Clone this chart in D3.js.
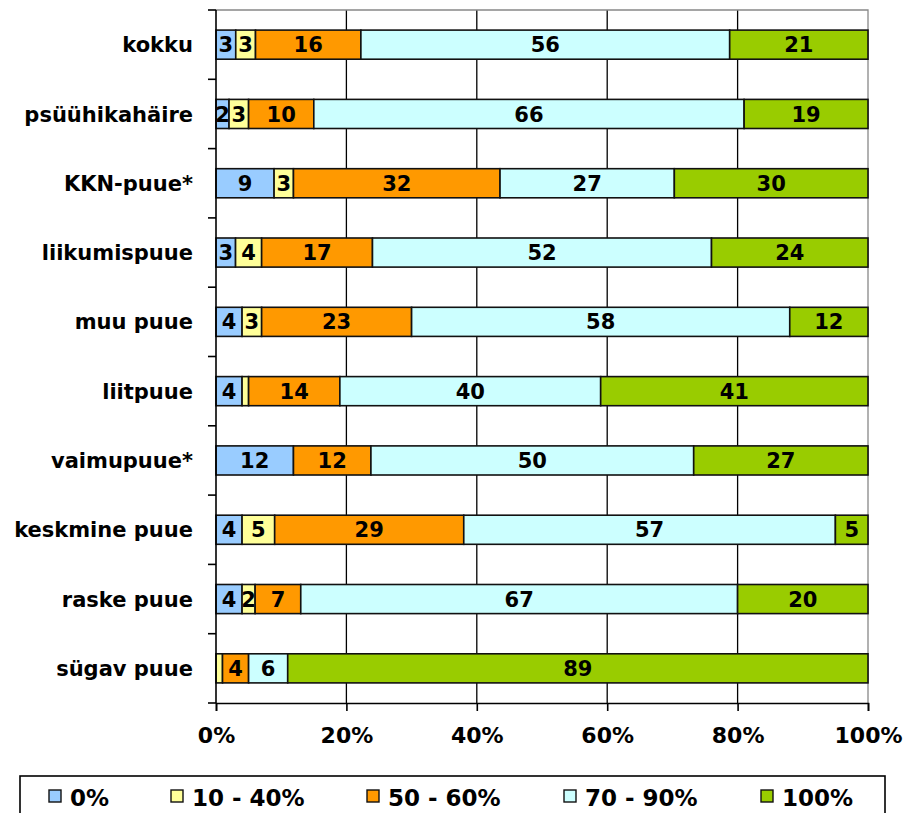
<!DOCTYPE html>
<html>
<head>
<meta charset="utf-8">
<script src="https://cdn.jsdelivr.net/npm/d3@7"></script>
<style>
  body { margin: 0; background: #fff; }
  svg { display: block; font-family: "DejaVu Sans", Verdana, sans-serif; font-weight: bold; }
</style>
</head>
<body>
<svg id="chart" width="909" height="813"></svg>
<script>
// categories, top to bottom
const categories = ["kokku", "psüühikahäire", "KKN-puue*", "liikumispuue", "muu puue",
  "liitpuue", "vaimupuue*", "keskmine puue", "raske puue", "sügav puue"];

// series values (percent), one array per segment
const s0     = [3, 2, 9, 3, 4, 4, 12, 4, 4, 0];
const s10_40 = [3, 3, 3, 4, 3, 1, 0, 5, 2, 1];
const s50_60 = [16, 10, 32, 17, 23, 14, 12, 29, 7, 4];
const s70_90 = [56, 66, 27, 52, 58, 40, 50, 57, 67, 6];
const s100   = [21, 19, 30, 24, 12, 41, 27, 5, 20, 89];

const seriesNames = ["0%", "10 - 40%", "50 - 60%", "70 - 90%", "100%"];
const seriesColors = ["#99ccff", "#ffff99", "#ff9900", "#ccffff", "#99cc00"];
const xTicks = [0, 0.2, 0.4, 0.6, 0.8, 1];

const svg = d3.select("#chart");
const plotLeft = 216, plotRight = 868, plotTop = 10, plotBottom = 703;

// build rows for d3.stack
const keys = ["a", "b", "c", "d", "e"];
const rows = categories.map((c, i) => ({
  cat: c, a: s0[i], b: s10_40[i], c: s50_60[i], d: s70_90[i], e: s100[i]
}));

const stacked = d3.stack().keys(keys).offset(d3.stackOffsetExpand)(rows);

const x = d3.scaleLinear().domain([0, 1]).range([plotLeft, plotRight]);
const y = d3.scaleBand().domain(categories).range([plotTop, plotBottom]).paddingInner(0.58).paddingOuter(0.29);

// gridlines
svg.append("g")
  .selectAll("line")
  .data([0.2, 0.4, 0.6, 0.8])
  .enter().append("line")
  .attr("x1", d => x(d)).attr("x2", d => x(d))
  .attr("y1", plotTop).attr("y2", plotBottom)
  .attr("stroke", "#000").attr("stroke-width", 1.3);

// plot border (top/right) grey
svg.append("path")
  .attr("d", `M${plotLeft},${plotTop}H${plotRight}V${plotBottom}`)
  .attr("fill", "none").attr("stroke", "#888").attr("stroke-width", 1.3);

// bars
const layer = svg.append("g")
  .selectAll("g")
  .data(stacked)
  .enter().append("g")
  .attr("fill", (d, i) => seriesColors[i]);

layer.selectAll("rect")
  .data(d => d)
  .enter().append("rect")
  .attr("x", d => x(d[0]))
  .attr("width", d => x(d[1]) - x(d[0]))
  .attr("y", d => y(d.data.cat))
  .attr("height", y.bandwidth())
  .attr("stroke", "#111")
  .attr("stroke-width", 1.6);

// value labels
stacked.forEach((ser) => {
  svg.append("g")
    .selectAll("text")
    .data(ser.filter(d => d.data[ser.key] >= 2))
    .enter().append("text")
    .attr("x", d => (x(d[0]) + x(d[1])) / 2)
    .attr("y", d => y(d.data.cat) + y.bandwidth() / 2)
    .attr("dy", "0.36em")
    .attr("text-anchor", "middle")
    .attr("font-size", 21)
    .attr("fill", "#000")
    .text(d => d.data[ser.key]);
});

// left axis
const yAxis = svg.append("g");
yAxis.append("line")
  .attr("x1", plotLeft).attr("x2", plotLeft).attr("y1", plotTop).attr("y2", plotBottom)
  .attr("stroke", "#000").attr("stroke-width", 1.6);
yAxis.selectAll("line.tick")
  .data(d3.range(categories.length + 1))
  .enter().append("line")
  .attr("class", "tick")
  .attr("x1", plotLeft - 8).attr("x2", plotLeft)
  .attr("y1", i => plotTop + i * y.step()).attr("y2", i => plotTop + i * y.step())
  .attr("stroke", "#000").attr("stroke-width", 1.6);
yAxis.selectAll("text")
  .data(categories)
  .enter().append("text")
  .attr("x", 193)
  .attr("y", d => y(d) + y.bandwidth() / 2)
  .attr("dy", "0.36em")
  .attr("text-anchor", "end")
  .attr("font-size", 21)
  .text(d => d);

// bottom axis
const xAxis = svg.append("g")
  .attr("transform", `translate(0,${plotBottom})`)
  .call(d3.axisBottom(x).tickValues(xTicks).tickFormat(d3.format(".0%")).tickSize(8));
xAxis.select(".domain").attr("stroke", "#000").attr("stroke-width", 1.6);
xAxis.selectAll(".tick line").attr("stroke", "#000").attr("stroke-width", 1.6);
xAxis.selectAll(".tick text")
  .attr("font-size", 22).attr("font-family", "DejaVu Sans, Verdana, sans-serif")
  .attr("font-weight", "bold").attr("fill", "#000")
  .attr("y", 24).attr("dy", "0.71em");

// legend
const legend = svg.append("g");
legend.append("rect")
  .attr("x", 20).attr("y", 776).attr("width", 865).attr("height", 60)
  .attr("fill", "#fff").attr("stroke", "#000").attr("stroke-width", 1.6);

const legendX = [49, 171, 367, 564, 761];
const item = legend.selectAll("g.item")
  .data(seriesNames)
  .enter().append("g")
  .attr("class", "item")
  .attr("transform", (d, i) => `translate(${legendX[i]},790)`);
item.append("rect")
  .attr("width", 12).attr("height", 12)
  .attr("fill", (d, i) => seriesColors[i])
  .attr("stroke", "#111").attr("stroke-width", 1.4);
item.append("text")
  .attr("x", 21).attr("y", 16)
  .attr("font-size", 23)
  .text(d => d);
</script>
</body>
</html>
